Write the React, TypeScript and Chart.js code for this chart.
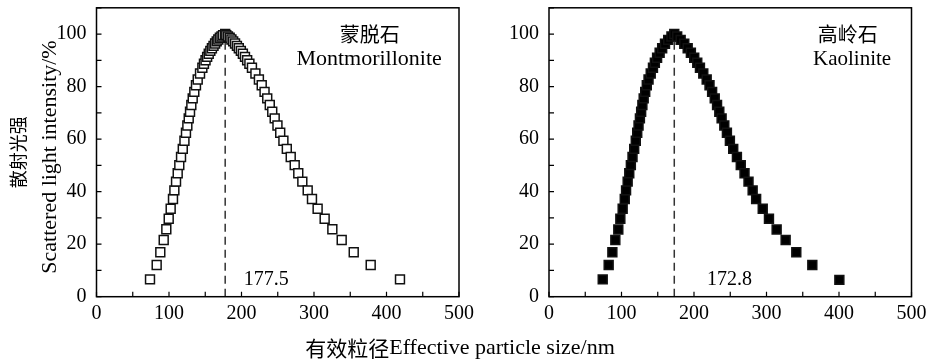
import React, { useEffect, useRef } from "react";
import { Chart, registerables } from "chart.js";
Chart.register(...registerables);

const SERIF = '"Liberation Serif", "Times New Roman", serif';
const CJK = '"Noto Sans CJK SC", sans-serif';

// Montmorillonite (open squares)
const montX = [
  73.8, 83.0, 88.0, 92.7, 96.3, 99.6, 102.3, 105.5, 107.4, 109.7, 112.0, 114.2,
  116.6, 119.0, 121.3, 123.4, 125.3, 127.2, 129.0, 130.8, 132.7, 134.9, 137.2,
  139.6, 142.8, 146.0, 148.2, 150.4, 152.6, 154.8, 157.0, 159.2, 161.4, 163.6,
  165.8, 168.0, 170.2, 172.4, 174.6,
  177.5,
  179.0, 181.3, 183.7, 186.1, 188.5, 191.1, 193.7, 196.3, 199.1, 201.9, 204.8,
  207.8, 210.9, 214.4, 219.2, 224.0, 227.9, 231.8, 235.5, 239.0, 242.4, 245.8,
  249.6, 253.4, 257.8, 262.5, 267.9, 273.4, 278.3, 283.9, 291.3, 297.2, 305.0,
  314.7, 325.3, 338.2, 354.8, 378.2, 418.6,
];
const montY = [
  6.6, 12.1, 16.9, 21.6, 25.7, 29.7, 33.5, 37.2, 40.5, 43.8, 47.0, 50.1, 53.2,
  56.3, 59.4, 62.4, 65.2, 67.9, 70.4, 73.0, 75.5, 78.0, 80.5, 82.7, 85.0, 87.2,
  88.7, 90.0, 91.3, 92.5, 93.6, 94.6, 95.5, 96.4, 97.2, 97.9, 98.6, 99.1, 99.6,
  100,
  99.6, 99.1, 98.6, 97.9, 97.2, 96.4, 95.5, 94.6, 93.6, 92.5, 91.3, 90.0, 88.7,
  87.2, 85.0, 82.7, 80.5, 78.0, 75.5, 73.0, 70.4, 67.9, 65.2, 62.4, 59.4, 56.3,
  53.2, 50.1, 47.0, 43.8, 40.5, 37.2, 33.5, 29.7, 25.7, 21.6, 16.9, 12.1, 6.6,
];

// Kaolinite (filled squares)
const kaolX = [
  74.1, 82.3, 87.4, 91.5, 95.6, 98.4, 101.6, 104.5, 106.3, 108.5, 110.7, 112.9,
  115.2, 117.5, 119.7, 121.7, 123.5, 125.4, 127.1, 128.8, 130.6, 132.7, 134.9,
  137.3, 140.3, 143.4, 146.0, 149.1, 152.6, 156.1, 160.0, 164.4, 168.9,
  172.8,
  176.8, 181.6, 186.6, 191.3, 195.7, 200.3, 204.5, 208.2, 212.8, 217.5, 221.4,
  225.0, 228.6, 231.8, 234.9, 238.1, 241.8, 245.4, 249.5, 254.1, 259.2, 264.5,
  269.7, 275.2, 280.9, 285.7, 294.8, 303.4, 314.0, 326.4, 341.1, 363.2, 400.5,
];
const kaolY = [
  6.6, 12.1, 16.9, 21.6, 25.6, 29.7, 33.5, 37.2, 40.5, 43.8, 47.0, 50.1, 53.2,
  56.3, 59.4, 62.4, 65.2, 67.9, 70.4, 73.0, 75.5, 78.0, 80.5, 82.7, 85.0, 87.2,
  89.1, 91.0, 92.9, 94.6, 96.3, 97.8, 99.1,
  100,
  99.1, 97.8, 96.3, 94.6, 92.9, 91.0, 89.1, 87.2, 85.0, 82.7, 80.5, 78.0, 75.5,
  73.0, 70.4, 67.9, 65.2, 62.4, 59.4, 56.3, 53.2, 50.1, 47.0, 43.8, 40.5, 37.2,
  33.5, 29.7, 25.6, 21.6, 16.9, 12.1, 6.4,
];

const montPeak = 177.5;
const kaolPeak = 172.8;
const montPeakLabel = "177.5";
const kaolPeakLabel = "172.8";
const montNameCN = "蒙脱石";
const montNameEN = "Montmorillonite";
const kaolNameCN = "高岭石";
const kaolNameEN = "Kaolinite";
const yTitleCN = "散射光强";
const yTitleEN = "Scattered light intensity/%";
const xTitleCN = "有效粒径";
const xTitleEN = "Effective particle size/nm";

type Panel = {
  xs: number[];
  ys: number[];
  fill: string;
  peak: number;
  peakLabel: string;
  peakLabelX: number;
  nameCN: string;
  nameEN: string;
  nameCNX: number;
  nameENX: number;
  nameENSize: number;
  yAxisWidth: number;
  padRight: number;
  axisTitles: boolean;
};

function makePanel(canvas: HTMLCanvasElement, p: Panel) {
  const deco = {
    id: "deco",
    beforeDatasetsDraw(chart: any) {
      const { ctx } = chart;
      const xs = chart.scales.x;
      const ys = chart.scales.y;
      const px = xs.getPixelForValue(p.peak);
      ctx.save();
      ctx.strokeStyle = "#333";
      ctx.lineWidth = 1.5;
      ctx.setLineDash([8, 5]);
      ctx.beginPath();
      ctx.moveTo(px, ys.getPixelForValue(0));
      ctx.lineTo(px, ys.getPixelForValue(100));
      ctx.stroke();
      ctx.restore();
    },
    afterDraw(chart: any) {
      const { ctx, chartArea: a } = chart;
      const xs = chart.scales.x;
      const ys = chart.scales.y;
      ctx.save();
      ctx.strokeStyle = "#000";
      ctx.lineWidth = 1.5;
      ctx.strokeRect(a.left, a.top, a.right - a.left, a.bottom - a.top);
      ctx.lineWidth = 1.2;
      ctx.beginPath();
      for (const t of xs.ticks) {
        const x = xs.getPixelForValue(t.value);
        ctx.moveTo(x, a.bottom);
        ctx.lineTo(x, a.bottom - 5);
      }
      for (const t of ys.ticks) {
        const y = ys.getPixelForValue(t.value);
        ctx.moveTo(a.left, y);
        ctx.lineTo(a.left + 5, y);
      }
      ctx.stroke();

      ctx.fillStyle = "#000";
      ctx.textBaseline = "middle";
      // peak label
      ctx.font = `20px ${SERIF}`;
      ctx.textAlign = "left";
      ctx.fillText(p.peakLabel, xs.getPixelForValue(p.peakLabelX), ys.getPixelForValue(6.3));
      // names
      ctx.textAlign = "center";
      ctx.font = `20px ${CJK}`;
      ctx.fillText(p.nameCN, xs.getPixelForValue(p.nameCNX), ys.getPixelForValue(99.8));
      ctx.font = `${p.nameENSize}px ${SERIF}`;
      ctx.fillText(p.nameEN, xs.getPixelForValue(p.nameENX), ys.getPixelForValue(90.5));

      if (p.axisTitles) {
        // y title
        const cy = (a.top + a.bottom) / 2;
        ctx.save();
        ctx.translate(18, cy);
        ctx.rotate(-Math.PI / 2);
        ctx.font = `18px ${CJK}`;
        ctx.fillText(yTitleCN, 0, 0);
        ctx.restore();
        ctx.save();
        ctx.translate(50, 157);
        ctx.rotate(-Math.PI / 2);
        ctx.font = `22px ${SERIF}`;
        ctx.fillText(yTitleEN, 0, 0);
        ctx.restore();
        // x title (spans both panels)
        ctx.font = `21px ${CJK}`;
        const w1 = ctx.measureText(xTitleCN).width;
        ctx.font = `22px ${SERIF}`;
        const w2 = ctx.measureText(xTitleEN).width;
        const start = 460 - (w1 + w2) / 2;
        ctx.textAlign = "left";
        ctx.font = `21px ${CJK}`;
        ctx.fillText(xTitleCN, start, 348);
        ctx.font = `22px ${SERIF}`;
        ctx.fillText(xTitleEN, start + w1, 348);
      }
      ctx.restore();
    },
  };

  const zeroPad = (s: any) => {
    s.paddingTop = 0;
    s.paddingBottom = 0;
    s.paddingLeft = 0;
    s.paddingRight = 0;
  };

  return new Chart(canvas, {
    type: "scatter",
    data: {
      datasets: [
        {
          data: p.xs.map((x, i) => ({ x, y: p.ys[i] })),
          pointStyle: "rect",
          pointRadius: 6.3,
          pointHoverRadius: 6.3,
          borderWidth: 1.5,
          borderColor: "#111",
          backgroundColor: p.fill,
          showLine: false,
        },
      ],
    },
    options: {
      responsive: false,
      animation: false,
      devicePixelRatio: 1,
      events: [],
      layout: { padding: { left: 0, right: p.padRight, top: 7, bottom: 0 } },
      plugins: { legend: { display: false }, tooltip: { enabled: false } },
      scales: {
        x: {
          type: "linear",
          min: 0,
          max: 500,
          grid: { display: false },
          border: { display: false },
          ticks: {
            stepSize: 50,
            autoSkip: false,
            maxRotation: 0,
            padding: -3,
            color: "#000",
            font: { family: SERIF, size: 20 },
            callback: (v: any) => (Number(v) % 100 === 0 ? String(v) : ""),
          },
          afterFit: (s: any) => {
            s.height = 66.3;
            zeroPad(s);
          },
        },
        y: {
          type: "linear",
          min: 0,
          max: 110,
          grid: { display: false },
          border: { display: false },
          ticks: {
            stepSize: 10,
            autoSkip: false,
            padding: 2,
            color: "#000",
            font: { family: SERIF, size: 20 },
            callback: (v: any) =>
              Number(v) % 20 === 0 && Number(v) <= 100 ? String(v) : "",
          },
          afterFit: (s: any) => {
            s.width = p.yAxisWidth;
            zeroPad(s);
          },
        },
      },
    },
    plugins: [deco],
  } as any);
}

export default function App() {
  const leftRef = useRef<HTMLCanvasElement>(null);
  const rightRef = useRef<HTMLCanvasElement>(null);

  useEffect(() => {
    const c1 = makePanel(leftRef.current!, {
      xs: montX,
      ys: montY,
      fill: "#ffffff",
      peak: montPeak,
      peakLabel: montPeakLabel,
      peakLabelX: 203,
      nameCN: montNameCN,
      nameEN: montNameEN,
      nameCNX: 377,
      nameENX: 376,
      nameENSize: 22,
      yAxisWidth: 96.5,
      padRight: 930 - 459,
      axisTitles: true,
    });
    const c2 = makePanel(rightRef.current!, {
      xs: kaolX,
      ys: kaolY,
      fill: "#000000",
      peak: kaolPeak,
      peakLabel: kaolPeakLabel,
      peakLabelX: 218,
      nameCN: kaolNameCN,
      nameEN: kaolNameEN,
      nameCNX: 412,
      nameENX: 418,
      nameENSize: 21,
      yAxisWidth: 84,
      padRight: 18.5,
      axisTitles: false,
    });
    return () => {
      c1.destroy();
      c2.destroy();
    };
  }, []);

  return (
    <div
      style={{
        position: "fixed",
        left: 0,
        top: 0,
        width: 930,
        height: 363,
        background: "#fff",
      }}
    >
      <canvas
        ref={leftRef}
        width={930}
        height={363}
        style={{ position: "absolute", left: 0, top: 0, width: 930, height: 363 }}
      />
      <canvas
        ref={rightRef}
        width={465}
        height={363}
        style={{ position: "absolute", left: 465, top: 0, width: 465, height: 363 }}
      />
    </div>
  );
}
